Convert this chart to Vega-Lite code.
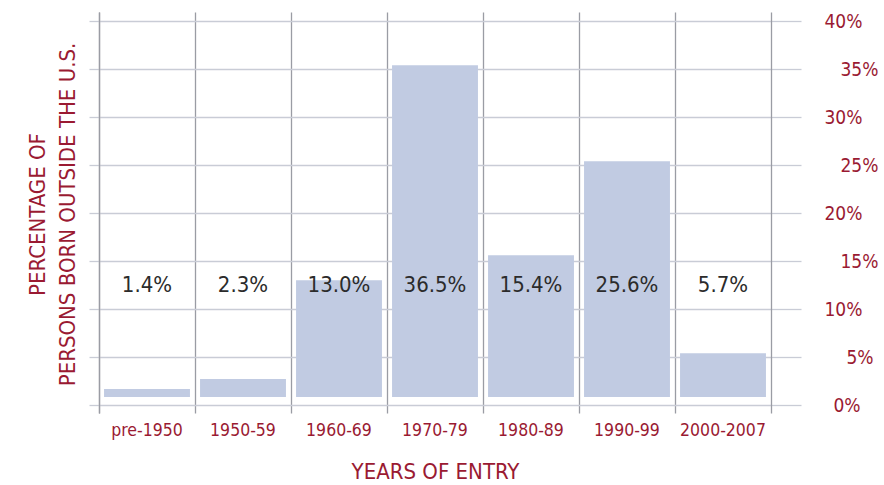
{
  "$schema": "https://vega.github.io/schema/vega-lite/v6.json",
  "width": 672,
  "height": 401,
  "autosize": {"type": "none"},
  "padding": {"left": 99, "top": 12, "right": 113, "bottom": 72},
  "background": "white",
  "config": {
    "view": {"stroke": null},
    "font": "DejaVu Sans Condensed, Roboto, sans-serif",
    "text": {"font": "DejaVu Sans Condensed, Roboto, sans-serif"},
    "axis": {"labelFont": "DejaVu Sans Condensed, Roboto, sans-serif", "titleFont": "DejaVu Sans Condensed, Roboto, sans-serif", "titleFontWeight": "normal"}
  },
  "data": {
    "values": [
      {"period": "pre-1950", "pct": 0.014, "bar_top": 1.67},
      {"period": "1950-59", "pct": 0.023, "bar_top": 2.71},
      {"period": "1960-69", "pct": 0.130, "bar_top": 13.0},
      {"period": "1970-79", "pct": 0.365, "bar_top": 35.4},
      {"period": "1980-89", "pct": 0.154, "bar_top": 15.6},
      {"period": "1990-99", "pct": 0.256, "bar_top": 25.4},
      {"period": "2000-2007", "pct": 0.057, "bar_top": 5.4}
    ]
  },
  "resolve": {"scale": {"y": "shared"}, "axis": {"y": "independent"}},
  "layer": [
    {
      "mark": {"type": "bar", "color": "#c1cbe2", "width": {"band": 0.895}},
      "encoding": {
        "x": {
          "field": "period", "type": "nominal", "sort": null,
          "scale": {"paddingInner": 0, "paddingOuter": 0},
          "axis": {
            "title": "YEARS OF ENTRY",
            "titleColor": "#9a1a32", "titleFontSize": 22,
            "titleY": 58, "titleBaseline": "middle",
            "labelColor": "#9a1a32", "labelFontSize": 17.5, "labelAngle": 0,
            "labelBaseline": "middle", "labelPadding": 17,
            "ticks": false, "tickSize": 0, "domain": false,
            "grid": true, "bandPosition": 0, "gridColor": "#9a9ca4", "gridWidth": 1.3
          }
        },
        "y": {
          "field": "bar_top", "type": "quantitative",
          "scale": {"domain": [-0.833, 40.94], "nice": false, "zero": false},
          "axis": {
            "orient": "left",
            "values": [0, 5, 10, 15, 20, 25, 30, 35, 40],
            "labels": false,
            "title": ["PERCENTAGE OF", "PERSONS BORN OUTSIDE THE U.S."],
            "titleColor": "#9a1a32", "titleFontSize": 22, "titleLineHeight": 30,
            "titleAngle": -90, "titleX": -62, "titleY": 202,
            "titleAlign": "center", "titleBaseline": "middle",
            "grid": true, "gridColor": "#c9ccd6", "gridWidth": 1.3,
            "ticks": true, "tickSize": 10, "tickColor": "#c9ccd6", "tickWidth": 1.3,
            "domain": true, "domainColor": "#9a9ca4", "domainWidth": 1.3
          }
        },
        "y2": {"datum": 0.83}
      }
    },
    {
      "mark": {"type": "text", "fontSize": 22, "color": "#2b2b2b", "baseline": "middle", "align": "center"},
      "encoding": {
        "x": {"field": "period", "type": "nominal", "sort": null},
        "y": {
          "datum": 12.5, "type": "quantitative",
          "axis": {
            "orient": "right",
            "values": [0, 5, 10, 15, 20, 25, 30, 35, 40],
            "labelExpr": "datum.value + '%'",
            "labelColor": "#9a1a32", "labelFontSize": 19,
            "labelAlign": "right", "labelBaseline": "middle",
            "labelPadding": {"condition": [
              {"test": "datum.value === 0", "value": 59},
              {"test": "datum.value === 5", "value": 72},
              {"test": "datum.value % 10 === 0", "value": 61}
            ], "value": 77},
            "title": null, "grid": false,
            "ticks": true, "tickSize": 30, "tickColor": "#c9ccd6", "tickWidth": 1.3,
            "domain": true, "domainColor": "#9a9ca4", "domainWidth": 1.3
          }
        },
        "text": {"field": "pct", "type": "quantitative", "format": ".1%"}
      }
    }
  ]
}
